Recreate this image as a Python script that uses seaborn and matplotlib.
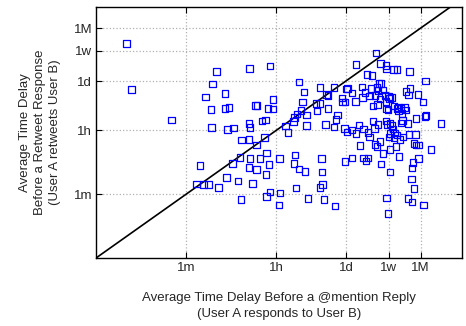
import numpy as np
import pandas as pd
import matplotlib
matplotlib.use("Agg")
import matplotlib.pyplot as plt
import seaborn as sns

sns.set_style("ticks")
plt.rcParams["font.family"] = ["Liberation Sans", "DejaVu Sans"]
plt.rcParams["xtick.direction"] = "in"
plt.rcParams["ytick.direction"] = "in"

# average delays, log10(seconds)
mention_log = [
    0.598, 0.689, 1.481, 2.380, 2.301, 2.162, 2.545, 2.267, 2.545, 2.624,
    2.281, 2.598, 2.709, 3.026, 3.430, 3.489, 3.152, 3.178, 3.390, 3.495,
    3.014, 3.034, 3.277, 3.343, 2.875, 3.014, 3.323, 3.739, 3.786, 3.897,
    3.917, 3.970, 4.044, 4.154, 4.154, 4.004, 4.103, 4.075, 4.360, 4.341,
    4.420, 4.426, 4.697, 4.550, 4.584, 4.584, 4.531, 4.697, 4.743, 4.768,
    4.855, 4.867, 4.921, 4.947, 4.966, 4.907, 4.960, 5.053, 5.133, 5.125,
    5.133, 5.192, 5.251, 5.263, 5.317, 5.350, 5.450, 5.436, 5.402, 5.469,
    5.515, 5.529, 5.549, 5.588, 5.620, 5.634, 5.574, 5.659, 5.608, 5.560,
    5.469, 5.501, 5.370, 5.568, 5.727, 5.739, 5.707, 5.778, 5.798, 5.838,
    5.727, 5.739, 5.766, 5.727, 5.747, 5.812, 5.877, 5.945, 5.891, 5.945,
    5.976, 6.030, 6.095, 6.050, 5.976, 5.851, 5.865, 5.812, 5.897, 5.950,
    6.024, 6.055, 6.194, 6.208, 6.123, 6.174, 6.360, 6.465, 6.511, 6.321,
    6.505, 6.519, 6.168, 6.313, 6.182, 6.816, 6.115,
    2.050, 1.976, 2.123, 2.222, 2.412, 2.570, 2.689, 2.802, 2.836, 2.861,
    3.040, 3.020, 3.085, 3.164, 3.164, 3.232, 3.362, 3.356, 3.410, 3.430,
    3.362, 3.620, 3.628, 3.614, 3.925, 3.911, 4.010, 4.123, 3.950, 4.188,
    4.451, 4.459, 4.471, 4.426, 4.499, 4.717, 4.921, 5.059, 5.212, 5.283,
    5.370, 5.337, 5.515, 5.554, 5.628, 5.673, 5.614, 5.806, 5.812, 5.739,
    5.772, 5.990, 5.931, 6.168, 6.248, 6.234, 6.248, 6.267, 6.281, 6.372,
    6.281, 6.327, 6.372, 6.471, 6.618,
    5.792, 5.891, 6.010, 6.069, 5.059, 5.283, 5.402,
]
retweet_log = [
    5.978, 4.693, 3.846, 5.196, 4.860, 4.489, 4.592, 4.145, 4.162, 4.190,
    3.631, 3.587, 3.623, 5.291, 5.355, 4.425, 4.257, 4.257, 4.173, 4.154,
    3.754, 3.631, 3.818, 3.846, 3.288, 3.307, 3.352, 3.679, 3.492, 3.799,
    3.911, 4.014, 4.106, 3.986, 3.687, 4.916, 4.628, 4.349, 4.098, 4.313,
    4.302, 4.760, 4.760, 4.564, 4.536, 4.162, 3.726, 3.651, 3.866, 3.986,
    4.461, 4.349, 4.349, 4.712, 4.732, 3.603, 3.511, 3.567, 5.402, 4.358,
    3.464, 3.707, 4.768, 4.469, 4.620, 5.112, 5.095, 4.732, 4.517, 4.237,
    4.536, 5.718, 4.760, 4.872, 5.419, 4.872, 4.665, 4.684, 4.433, 4.285,
    3.818, 3.615, 3.503, 3.715, 5.374, 5.279, 4.536, 4.497, 4.453, 4.469,
    4.369, 4.154, 4.126, 3.818, 3.726, 3.754, 5.263, 5.263, 4.237, 4.173,
    4.190, 4.173, 4.201, 4.034, 4.098, 3.687, 3.595, 3.475, 3.483, 3.427,
    3.763, 3.838, 5.207, 4.732, 4.637, 4.545, 4.564, 4.349, 4.936, 3.883,
    3.950, 3.978, 3.754, 3.436, 3.436, 3.743, 4.126,
    2.570, 2.059, 2.050, 2.050, 1.955, 2.235, 2.626, 2.142, 2.804, 1.620,
    2.765, 2.514, 2.078, 3.148, 2.458, 2.765, 2.925, 2.330, 2.609, 1.835,
    1.715, 2.765, 1.807, 1.472, 2.869, 2.626, 2.478, 2.413, 1.947, 1.648,
    2.765, 2.394, 2.050, 1.966, 1.620, 1.444, 2.682, 2.785, 3.128, 2.785,
    2.785, 2.701, 3.168, 3.101, 2.617, 2.916, 3.240, 3.017, 2.394, 1.668,
    1.240, 2.821, 3.101, 1.659, 1.556, 2.198, 2.506, 2.654, 1.927, 2.765,
    3.196, 3.148, 3.148, 1.472, 3.028,
    3.371, 3.344, 3.296, 3.372, 4.601, 3.595, 3.372,
]

tick_vals = [60, 3600, 86400, 604800, 2592000]
tick_labels = ["1m", "1h", "1d", "1w", "1M"]

df = pd.DataFrame({"mention": 10 ** np.array(mention_log),
                   "retweet": 10 ** np.array(retweet_log)})

fig = plt.figure(figsize=(4.66, 3.26), dpi=100)
ax = fig.add_axes([0.207, 0.2095, 0.784, 0.7685])
ax.set_xscale("log")
ax.set_yscale("log")

ax.plot([1, 1e8], [1, 1e8], color="black", lw=1.2, zorder=2)
sns.scatterplot(data=df, x="mention", y="retweet", marker="s", s=22,
                facecolor="none", edgecolor="#0000ff", linewidth=0.9,
                ax=ax, zorder=3)

ax.set_xlim(1, 10 ** 7.23)
ax.set_ylim(1, 1e7)
ax.set_xticks(tick_vals)
ax.set_xticklabels(tick_labels)
ax.set_yticks(tick_vals)
ax.set_yticklabels(tick_labels)
ax.minorticks_off()
ax.tick_params(which="both", top=True, right=True, length=4, width=0.8,
               labelsize=9.5, color="black", pad=3)
ax.grid(True, ls=":", color="#b0b0b0", lw=0.9)
for sp in ax.spines.values():
    sp.set_color("black")
    sp.set_linewidth(1.0)

ax.set_xlabel("Average Time Delay Before a @mention Reply\n(User A responds to User B)",
              fontsize=9.5, labelpad=13, linespacing=1.45)
ax.set_ylabel("Average Time Delay\nBefore a Retweet Response\n(User A retweets User B)",
              fontsize=9.5, labelpad=9, linespacing=1.35)

fig.savefig("out.png", dpi=100)
